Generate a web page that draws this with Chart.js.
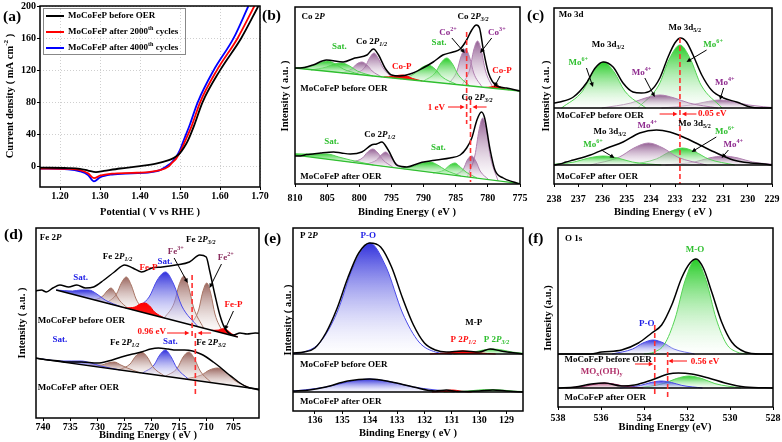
<!DOCTYPE html>
<html>
<head>
<meta charset="utf-8">
<script src="https://cdn.jsdelivr.net/npm/chart.js@4.4.0/dist/chart.umd.min.js"></script>
<style>
body{margin:0;background:#fff;width:782px;height:442px;overflow:hidden;position:relative}
</style>
</head>
<body>
<script>
// ---------- (a) LSV curves: [potential V, current mA cm-2]
const lsvBefore = [[1.15,-1],[1.22,-1.5],[1.25,-2.5],[1.27,-4.5],[1.29,-6.5],[1.31,-5],[1.35,-2],[1.40,1],[1.44,4],[1.47,8],[1.48,10],[1.49,13],[1.50,17],[1.51,24],[1.52,33],[1.535,51],[1.556,80],[1.60,120],[1.653,160],[1.696,200]];
const lsv2000 = [[1.15,-2],[1.22,-2.5],[1.25,-4],[1.27,-8],[1.285,-14],[1.30,-11],[1.33,-8.5],[1.38,-7.5],[1.42,-6.5],[1.45,-4],[1.47,0],[1.48,5],[1.49,10],[1.50,18],[1.51,29],[1.53,52],[1.55,80],[1.592,120],[1.644,160],[1.686,200]];
const lsv4000 = [[1.15,-2],[1.22,-3],[1.25,-5.5],[1.27,-10],[1.285,-18],[1.30,-13],[1.33,-9.5],[1.38,-8],[1.42,-7],[1.45,-4],[1.47,2],[1.48,6],[1.49,12],[1.50,21],[1.51,34],[1.525,53],[1.544,80],[1.584,120],[1.634,160],[1.671,200]];

// ---------- (b) Co 2p: [binding energy eV, intensity a.u.]
const coBase = [[772,91],[813,118]];
const coBaseAfter = [[772,-2],[813,31.4]];
const coFit = [[810,116],[809.2,116],[807.2,119],[805.1,124],[802.5,122],[800.7,126],[798.8,129],[797.8,135],[797.0,129],[796.0,116],[795.0,109],[793.7,108],[792.1,110],[790.1,116],[788.5,122],[787.0,129],[785.4,132],[784.3,135],[783.3,144],[782.5,154],[781.8,159],[781.3,156],[780.7,134],[779.9,111],[778.6,98],[777.1,96],[775,93]];
const coFitAfter = [[810,28],[809.2,28],[808.2,29.5],[807.2,30],[806,31],[804.0,32],[802.8,31],[801.4,30],[799.6,32],[798.1,39],[797.3,40],[796.5,42],[795.5,34],[794.2,19],[793.4,17.5],[792.6,17],[790.6,21],[788.0,24],[785.9,26],[784.3,29],[783.3,36],[782.5,46],[781.7,64],[781.0,72],[780.5,66],[779.7,36],[778.9,14],[777.6,6],[776.0,2],[775,0]];
const coPeaks = [
  [[800.1,110],[802.5,115],[803.7,120],[804.9,123],[806.1,121],[807.3,118],[809.7,116]],
  [[797.9,108],[800.3,113],[801.5,118],[802.7,121],[803.9,120],[805.1,117],[807.5,114]],
  [[796.5,107],[798.0,113],[798.8,119],[799.6,122],[800.4,120],[801.2,115],[802.7,111]],
  [[794.8,106],[796.3,116],[797.0,125],[797.7,131],[798.4,126],[799.1,117],[800.6,110]],
  [[790.2,103],[791.7,105.5],[792.45,107.6],[793.2,109],[793.95,108.6],[794.7,107.5],[796.2,107]],
  [[785.0,100],[787.1,107],[788.2,115],[789.3,119],[790.4,116],[791.5,110],[793.6,105]],
  [[782.8,98],[784.6,109],[785.5,120],[786.4,126],[787.3,121],[788.2,111],[790.0,103]],
  [[780.9,97],[782.2,111],[782.8,126],[783.5,135],[784.2,127],[784.8,113],[786.1,100]],
  [[779.2,96],[780.4,114],[781.0,133],[781.6,143],[782.2,134],[782.8,115],[784.0,99]],
  [[776.8,94.2],[777.7,95.9],[778.15,97.4],[778.6,98.4],[779.05,98],[779.5,97.1],[780.4,96.6]]
];
const coPeakColors = ['green','green','purple','purple','red','green','green','purple','purple','red'];
const coPeaksAfter = [
  [[797.8,19],[801.4,24],[803.2,27],[805,30],[806.8,30],[808.6,30],[812.2,31]],
  [[794.8,17],[796.3,24],[797.1,31],[797.9,35],[798.7,32],[799.5,26],[801.0,22]],
  [[793.0,15],[794.5,22],[795.2,28],[795.9,32],[796.6,29],[797.3,24],[798.8,20]],
  [[784.2,8],[786.6,14],[787.8,19],[789,22],[790.2,21],[791.4,18],[793.8,16]],
  [[781.7,6],[783.4,12],[784.3,17],[785.1,21],[785.9,19],[786.8,14],[788.5,11]],
  [[779.9,4.5],[781.2,13],[781.8,22],[782.5,28],[783.2,24],[783.8,15],[785.1,9]],
  [[778.4,3],[779.6,27],[780.2,52],[780.8,66],[781.4,53],[782.0,29],[783.2,7]]
];
const coPeakColorsAfter = ['green','purple','purple','green','green','purple','purple'];

// ---------- (c) Mo 3d
const moBase = [[227,76],[240,76]];
const moBaseAfter = [[227,19],[240,19]];
const moFit = [[238,81],[237.76,82],[237.2,87],[236.66,101],[236.3,116],[235.97,122],[235.56,117],[235.15,101],[234.74,92],[234.39,91],[233.98,94],[233.63,106],[233.29,127],[233.01,141],[232.78,146],[232.53,142],[232.26,129],[231.9,109],[231.5,94],[231.0,86],[230.46,82],[229.9,77],[229.5,76],[229,76]];
const moFitAfter = [[238,19],[237.76,20],[237.5,22],[237.2,24],[236.5,29],[235.8,36],[235.15,42],[234.46,51],[233.77,54],[233.22,52],[232.67,47],[231.98,39],[231.29,31],[230.6,24],[229.9,21],[229.3,20],[229,19]];
const moPeaks = [
  [[234.21,76],[235.08,93],[235.52,112],[235.95,122],[236.39,112],[236.82,93],[237.69,76]],
  [[231.23,76],[232.43,81],[233.03,86],[233.63,89],[234.23,86],[234.83,81],[236.03,76]],
  [[231.06,76],[231.93,99],[232.37,125],[232.8,139],[233.24,125],[233.67,99],[234.54,76]],
  [[228.76,76],[229.96,79],[230.56,82],[231.16,84],[231.76,82],[232.36,79],[233.56,76]]
];
const moPeaksAfter = [
  [[233.57,19],[234.77,22],[235.37,26],[235.97,28],[236.57,26],[237.17,22],[238.37,19]],
  [[231.7,19],[232.9,27],[233.5,36],[234.1,41],[234.7,36],[235.3,27],[236.5,19]],
  [[230.54,19],[231.62,25],[232.16,32],[232.7,36],[233.24,32],[233.78,25],[234.86,19]],
  [[228.6,19],[229.8,22],[230.4,26],[231.0,28],[231.6,26],[232.2,22],[233.4,19]]
];
const moPeakColors = ['green','purple','green','purple'];

// ---------- (d) Fe 2p
const feBase = [[704.2,81],[737.6,128]];
const feBaseAfter = [[698,27],[743,61]];
const feFit = [[741.4,127],[740.3,128],[739.4,126],[738.2,130],[736.9,133],[735.3,131],[733.8,133],[732.2,130],[730.7,131],[728.8,138],[726.9,146],[725.0,153],[723.5,150],[721.9,146],[720.0,150],[718.1,151],[715.6,153],[713.1,156],[711.2,163],[710.0,161],[709.4,148],[708.4,123],[707.5,103],[706.6,90],[705.0,83],[703.8,85],[702.5,84],[701.0,85],[699.5,84]];
const feFitAfter = [[741.4,60],[739,58],[737,57],[735.6,56],[733,56],[730,55],[728,57],[725.6,61],[723.5,64],[721.9,66],[720.2,69],[718.8,70],[717,69],[715.6,68],[714,68],[712.5,67],[711,64],[710.0,61],[708.7,56],[707.5,51],[706.2,45],[705.0,40],[703.8,35],[702.5,31],[701,29],[699.5,27]];
const fePeaks = [
  [[725.6,111],[728.6,118],[730.1,124],[731.6,128],[733.1,128],[734.6,127],[737.6,128]],
  [[724.5,110],[726.0,118],[726.75,125],[727.5,130],[728.25,127],[729.0,122],[730.5,118]],
  [[721.1,105],[722.9,119],[723.8,133],[724.7,141],[725.6,135],[726.5,124],[728.3,115]],
  [[711.5,91],[714.5,112],[716.0,134],[717.5,146],[719.0,138],[720.5,121],[723.5,108]],
  [[710.5,90],[712.3,110],[713.2,130],[714.1,142],[715.0,133],[715.9,115],[717.7,100]],
  [[706.9,85],[708.4,104],[709.15,124],[709.9,135],[710.65,126],[711.4,108],[712.9,93]],
  [[717.7,100],[719.5,106],[720.4,112],[721.3,115],[722.2,114],[723.1,111],[724.9,110]],
  [[704.2,81],[705.4,84.5],[706.0,87.3],[706.6,89.3],[707.2,89.1],[707.8,87.9],[709.0,87.7]]
];
const fePeakColors = ['blue','brown','brown','blue','brown','brown','red','red'];
const fePeaksAfter = [
  [[725.8,48],[729.4,52],[731.2,55],[733,57],[734.8,57],[736.6,57],[740.2,59]],
  [[722.1,45],[724.5,50],[725.7,53],[726.9,56],[728.1,55],[729.3,53],[731.7,53]],
  [[717.7,42],[719.8,51],[720.85,61],[721.9,66],[722.95,62],[724.0,54],[726.1,48]],
  [[713.3,39],[715.4,50],[716.45,61],[717.5,68],[718.55,63],[719.6,53],[721.7,45]],
  [[709.0,35],[711.1,47],[712.15,59],[713.2,66],[714.25,61],[715.3,50],[717.4,42]],
  [[701.9,30],[704.9,38],[706.4,46],[707.9,50],[709.4,48],[710.9,43],[713.9,39]]
];
const fePeakColorsAfter = ['blue','brown','brown','blue','brown','brown'];

// ---------- (e) P 2p
const pBase = [[127,57],[138,57]];
const pBaseAfter = [[127,19],[138,19]];
const pFit = [[136.8,58],[136.4,59],[136.0,63],[135.6,78],[135.2,102],[134.8,133],[134.4,158],[134.0,168],[133.6,164],[133.2,144],[132.8,113],[132.4,86],[132.0,68],[131.6,61],[131.2,59],[130.6,60],[130.0,59],[129.6,62],[129.2,60],[128.4,57]];
const pFitAfter = [[136.8,20],[136.2,21],[135.6,24],[134.8,30],[134.0,32],[133.2,29],[132.4,24],[131.6,20],[131.2,21],[130.8,19.5],[130.0,20],[129.5,21],[129.0,20],[128.4,19]];
const pPeaks = [
  [[131.0,57],[131.6,59],[132.2,69],[132.8,98],[133.4,144],[134.0,168],[134.6,144],[135.2,98],[135.8,69],[136.4,59],[137.0,57]],
  [[129.4,57],[130.0,58.1],[130.3,59.3],[130.6,60],[130.9,59.3],[131.2,58.1],[131.8,57]],
  [[128.06,57],[128.78,58.9],[129.14,60.9],[129.5,62],[129.86,60.9],[130.22,58.9],[130.94,57]]
];
const pPeaksAfter = [
  [[130.9,19],[132.4,24],[133.2,29],[134.0,32],[134.8,29],[135.6,24],[137.1,19]],
  [[130.28,19],[130.64,19.7],[130.82,20.6],[131,21],[131.18,20.6],[131.36,19.7],[131.72,19]],
  [[127.9,19],[128.76,19.9],[129.18,21],[129.6,21.5],[130.02,21],[130.44,19.9],[131.3,19]]
];
const pPeakColors = ['blue','red','green'];

// ---------- (f) O 1s
const oBase = [[527,53],[539,53]];
const oBaseAfter = [[527,19],[539,19]];
const oFit = [[538,53],[536.5,53],[535.97,55],[535.04,57],[534.26,64],[533.64,74],[533.18,82],[532.71,102],[532.25,129],[531.86,144],[531.58,148],[531.24,139],[530.85,115],[530.39,85],[529.92,65],[529.3,55],[528.6,53],[528,53]];
const oFitAfter = [[538,19],[537.2,20],[536.45,23],[535.83,24],[535.04,21],[534.43,22],[533.64,27],[532.87,33],[532.4,34],[531.78,33],[531.0,29],[530.23,24],[529.3,20],[528,19]];
const oPeaks = [
  [[529.2,53],[529.68,55],[530.16,63],[530.64,88],[531.12,127],[531.6,148],[532.08,127],[532.56,88],[533.04,63],[533.52,55],[534.0,53]],
  [[531.65,53],[532.61,58],[533.09,64],[533.57,67],[534.05,64],[534.53,58],[535.49,53]]
];
const oPeakColors = ['green','blue'];
const oPeaksAfter = [
  [[534.03,19],[534.93,20.9],[535.38,22.9],[535.83,24],[536.28,22.9],[536.73,20.9],[537.63,19]],
  [[531.28,19],[532.24,21.6],[532.72,24.5],[533.2,26],[533.68,24.5],[534.16,21.6],[535.12,19]],
  [[529.5,19],[530.7,23.4],[531.3,28.4],[531.9,31],[532.5,28.4],[533.1,23.4],[534.3,19]]
];
const oPeakColorsAfter = ['maroon','blue','green'];

// ---------- styling
const FONT = 'Liberation Serif';
const K='#000', G='#2fbf2f', PU='#8e2a8e', RD='#ff1010', BL='#1e1ee6', FE='#8a2e5e', MR='#b0306a';
const PAL = {
  green:  ['rgba(0,195,0,0.85)','rgba(255,255,255,0.25)','#55d455'],
  purple: ['rgba(110,40,110,0.75)','rgba(255,255,255,0.25)','#b080b0'],
  blue:   ['rgba(20,20,215,0.88)','rgba(255,255,255,0.25)','#4a4ae8'],
  red:    ['#ff0000','#ff2020','#ff0000'],
  brown:  ['rgba(120,50,40,0.75)','rgba(255,255,255,0.25)','#a87565'],
  maroon: ['rgba(150,20,80,0.8)','rgba(255,255,255,0.3)','#a02060']
};

function grad(top, bot){
  return ctx => {
    const ch = ctx.chart, ys = ch.scales.y;
    if (!ch.chartArea || !ys) return top;
    let hi = -1e9, lo = 1e9;
    ctx.dataset.data.forEach(p => { hi = Math.max(hi, p[1]); lo = Math.min(lo, p[1]); });
    const g = ch.ctx.createLinearGradient(0, ys.getPixelForValue(hi), 0, ys.getPixelForValue(lo) + 1);
    g.addColorStop(0, top); g.addColorStop(1, bot);
    return g;
  };
}
const line = (pts, color, w, order) => ({data: pts, borderColor: color, borderWidth: w, fill: false, order: order, pointRadius: 0, cubicInterpolationMode: 'monotone'});
const peak = (pts, name, target) => {
  const c = PAL[name];
  return {data: pts, borderColor: c[2], borderWidth: 1, fill: target, backgroundColor: grad(c[0], c[1]),
    order: name === 'red' ? 2 : 3, pointRadius: 0, cubicInterpolationMode: 'monotone'};
};
function xpsSets(base, baseAfter, baseColor, fit, fitAfter, peaks, cols, peaksAfter, colsAfter){
  const ds = [line(base, baseColor, 1.3, 1), line(baseAfter, baseColor, 1.3, 1), line(fit, K, 1.5, 0), line(fitAfter, K, 1.5, 0)];
  peaks.forEach((p, i) => ds.push(peak(p, cols[i], 0)));
  peaksAfter.forEach((p, i) => ds.push(peak(p, colsAfter[i], 1)));
  return ds;
}

// ---------- rich text: *italic*, _{sub}, ^{sup}
function parseRich(s){
  const out = []; let it = false, i = 0, buf = '';
  const push = (t, m) => { if (t) out.push({t, m, it}); };
  while (i < s.length){
    const ch = s[i];
    if (ch === '*'){ push(buf, 'n'); buf = ''; it = !it; i++; continue; }
    if ((ch === '_' || ch === '^') && s[i+1] === '{'){
      push(buf, 'n'); buf = '';
      const j = s.indexOf('}', i);
      out.push({t: s.slice(i+2, j), m: ch === '_' ? 'sub' : 'sup', it});
      i = j + 1; continue;
    }
    buf += ch; i++;
  }
  push(buf, 'n');
  return out;
}
const rf = (size, g) => (g.it ? 'italic ' : '') + 'bold ' + (g.m === 'n' ? size : size * 0.68) + 'px "' + FONT + '"';
function drawRich(c, s, x, y, size, color, align){
  const segs = parseRich(s); let w = 0;
  segs.forEach(g => { c.font = rf(size, g); g.w = c.measureText(g.t).width; w += g.w; });
  let cx = align === 'center' ? x - w/2 : align === 'right' ? x - w : x;
  c.fillStyle = color; c.textBaseline = 'middle'; c.textAlign = 'left';
  segs.forEach(g => {
    c.font = rf(size, g);
    const dy = g.m === 'sub' ? size*0.32 : g.m === 'sup' ? -size*0.38 : 0;
    c.fillText(g.t, cx, y + dy); cx += g.w;
  });
}
function arrow(c, x1, y1, x2, y2, col){
  const a = Math.atan2(y2-y1, x2-x1), h = 5;
  c.strokeStyle = col; c.fillStyle = col; c.lineWidth = 1;
  c.beginPath(); c.moveTo(x1, y1); c.lineTo(x2 - Math.cos(a)*h*0.8, y2 - Math.sin(a)*h*0.8); c.stroke();
  c.beginPath(); c.moveTo(x2, y2);
  c.lineTo(x2 - h*Math.cos(a-0.45), y2 - h*Math.sin(a-0.45));
  c.lineTo(x2 - h*Math.cos(a+0.45), y2 - h*Math.sin(a+0.45));
  c.closePath(); c.fill();
}

function deco(p, cl, ct){
  return {id: 'deco', afterDraw(ch){
    const c = ch.ctx, a = ch.chartArea, X = v => ch.scales.x.getPixelForValue(v), Y = v => ch.scales.y.getPixelForValue(v);
    c.save();
    c.beginPath(); c.rect(a.left, a.top, a.right - a.left, a.bottom - a.top); c.clip();
    (p.notes || []).forEach(n => {
      if (n[0] === 'D'){
        c.strokeStyle = '#ff3030'; c.lineWidth = 1.6; c.setLineDash([5, 3]);
        c.beginPath(); c.moveTo(X(n[1]), Y(n[2])); c.lineTo(X(n[1]), Y(n[3])); c.stroke(); c.setLineDash([]);
      }
    });
    (p.notes || []).forEach(n => { if (n[0] === 'A') arrow(c, X(n[1]), Y(n[2]), X(n[3]), Y(n[4]), n[5] || K); });
    (p.notes || []).forEach(n => { if (n[0] === 'T') drawRich(c, n[3], X(n[1]), Y(n[2]), 9, n[4] || K, n[5] || 'center'); });
    c.restore();
    c.save();
    c.strokeStyle = K; c.lineWidth = 1.5; c.strokeRect(a.left, a.top, a.right - a.left, a.bottom - a.top);
    // titles and panel letter, page coords
    drawRich(c, p.xTitle[0], p.xTitle[1] - cl, p.xTitle[2] - ct, 10.5, K, 'center');
    c.save(); c.translate(p.yTitle[1] - cl, p.yTitle[2] - ct); c.rotate(-Math.PI/2);
    drawRich(c, p.yTitle[0], 0, 0, 10.5, K, 'center'); c.restore();
    drawRich(c, p.letter[0], p.letter[1] - cl, p.letter[2] - ct, 15.5, K, 'left');
    if (p.legend){
      const lg = p.legend;
      c.strokeStyle = '#888'; c.lineWidth = 1; c.strokeRect(lg.l - cl + 0.5, lg.t - ct + 0.5, lg.w, lg.h);
      lg.rows.forEach(r => {
        c.strokeStyle = r[1]; c.lineWidth = 2;
        c.beginPath(); c.moveTo(lg.l + 3 - cl, r[2] - ct); c.lineTo(lg.l + 21 - cl, r[2] - ct); c.stroke();
        drawRich(c, r[0], lg.l + 25 - cl, r[2] - ct, 9, K, 'left');
      });
    }
    c.restore();
  }};
}

function panel(p){
  const L = 45, T = 12, R = 16, B = 48, XH = 30;
  const cw = p.plot.r - p.plot.l + L + R, chh = p.plot.b - p.plot.t + T + B;
  const cl = p.plot.l - L, ct = p.plot.t - T;
  const cv = document.createElement('canvas');
  cv.width = cw; cv.height = chh;
  cv.style.cssText = `position:absolute;left:${cl}px;top:${ct}px;width:${cw}px;height:${chh}px`;
  document.body.appendChild(cv);
  const yw = p.yAxis ? 28 : 0;
  const tickFont = {family: FONT, weight: 'bold', size: 10};
  const yScale = p.yAxis ? Object.assign({
      type: 'linear', afterFit: s => { s.width = yw; },
      ticks: {stepSize: p.yAxis.step, includeBounds: false, color: K, font: tickFont, padding: 1},
      grid: {drawOnChartArea: true, color: '#cfcfcf', tickColor: K, tickLength: 3},
      border: {display: false, dash: [1, 2]}
    }, {min: p.yAxis.min, max: p.yAxis.max})
    : {type: 'linear', min: 0, max: p.plot.b - p.plot.t, display: false};
  new Chart(cv, {
    type: 'line',
    data: {datasets: p.datasets},
    options: {
      responsive: false, animation: false, devicePixelRatio: 1,
      layout: {padding: {left: L - yw, top: T, right: R, bottom: B - XH}},
      plugins: {legend: {display: false}, tooltip: {enabled: false}},
      elements: {point: {radius: 0}},
      scales: {
        x: {type: 'linear', min: p.xmin, max: p.xmax, reverse: !!p.reverse,
          afterFit: s => { s.height = XH; },
          ticks: {stepSize: p.step, includeBounds: false, maxRotation: 0, autoSkip: false, padding: p.tpad, color: K, font: tickFont},
          grid: {display: true, drawOnChartArea: !!p.gridOn, color: p.gridOn ? '#cfcfcf' : K, tickColor: K, tickLength: 3},
          border: {display: false, dash: p.gridOn ? [1, 2] : []}},
        y: yScale
      }
    },
    plugins: [deco(p, cl, ct)]
  });
}

const BE = 'Binding Energy ( eV )', INT = 'Intensity ( a.u. )';

// (a)
panel({
  plot: {l: 40, t: 6, r: 260, b: 187}, xmin: 1.15, xmax: 1.7, step: 0.1, tpad: 0, gridOn: true,
  yAxis: {min: -25, max: 200, step: 40},
  datasets: [line(lsvBefore, '#000', 1.8, 0), line(lsv2000, '#ff0000', 1.8, 0), line(lsv4000, '#0000ff', 1.8, 0)],
  xTitle: ['Potential ( V vs RHE )', 150, 212], yTitle: ['Current density ( mA cm^{-2} )', 10, 96],
  letter: ['(a)', 3, 17],
  legend: {l: 43, t: 8, w: 142, h: 46, rows: [['MoCoFeP before OER', '#000', 16], ['MoCoFeP after 2000^{th} cycles', '#ff0000', 32], ['MoCoFeP after 4000^{th} cycles', '#0000ff', 48]]}
});

// (b)
panel({
  plot: {l: 295, t: 7, r: 520, b: 184}, xmin: 775, xmax: 810, step: 5, tpad: 5, reverse: true,
  datasets: xpsSets(coBase, coBaseAfter, '#2fbf2f', coFit, coFitAfter, coPeaks, coPeakColors, coPeaksAfter, coPeakColorsAfter),
  xTitle: [BE, 407, 212], yTitle: [INT, 285, 96], letter: ['(b)', 262, 16],
  notes: [
    ['D', 783.3, 152, 60], ['D', 782.7, 84, 2],
    ['T', 809, 167, 'Co 2*P*', K, 'left'],
    ['T', 803.1, 137, 'Sat.', G], ['T', 798.1, 142, 'Co 2*P_{1/2}*'], ['T', 793.4, 117, 'Co-P', RD],
    ['T', 787.6, 141, 'Sat.', G], ['T', 782.3, 167, 'Co 2*P_{3/2}*'],
    ['T', 786.2, 151, 'Co^{2+}', PU], ['T', 778.6, 151, 'Co^{3+}', PU], ['T', 777.8, 113, 'Co-P', RD],
    ['A', 785.6, 146, 783.6, 131], ['A', 779.4, 146, 781.2, 131], ['A', 778.1, 108, 779.0, 97],
    ['T', 809.2, 95, 'MoCoFeP before OER', K, 'left'],
    ['T', 781.7, 86, 'Co 2*P_{3/2}*'], ['T', 788, 76, '1 eV', RD],
    ['A', 786.2, 77, 783.6, 77, RD], ['A', 780.2, 77, 782.4, 77, RD],
    ['T', 804.3, 42, 'Sat.', G], ['T', 796.8, 49, 'Co 2*P_{1/2}*'], ['T', 787.7, 36, 'Sat.', G],
    ['T', 809.2, 7, 'MoCoFeP after OER', K, 'left']
  ]
});

// (c)
panel({
  plot: {l: 554, t: 8, r: 772, b: 184}, xmin: 229, xmax: 238, step: 1, tpad: 6, reverse: true,
  datasets: xpsSets(moBase, moBaseAfter, K, moFit, moFitAfter, moPeaks, moPeakColors, moPeaksAfter, moPeakColors),
  xTitle: [BE, 663, 212], yTitle: [INT, 546, 96], letter: ['(c)', 527, 16],
  notes: [
    ['D', 232.8, 146, 0],
    ['T', 237.8, 169, 'Mo 3d', K, 'left'],
    ['T', 235.77, 139, 'Mo 3d_{3/2}'], ['T', 232.6, 156, 'Mo 3d_{5/2}'],
    ['T', 237.0, 121, 'Mo^{6+}', G], ['A', 236.66, 116, 236.39, 97],
    ['T', 231.43, 139, 'Mo^{6+}', G], ['A', 231.7, 134, 232.53, 122],
    ['T', 234.39, 111, 'Mo^{4+}', PU], ['A', 234.25, 106, 233.84, 87],
    ['T', 230.95, 101, 'Mo^{4+}', PU], ['A', 231.0, 96, 231.15, 84],
    ['T', 237.9, 68, 'MoCoFeP before OER', K, 'left'],
    ['T', 232.05, 70, '0.05 eV', RD, 'left'],
    ['A', 233.64, 70, 232.9, 70, RD], ['A', 232.12, 70, 232.72, 70, RD],
    ['T', 235.7, 52, 'Mo 3d_{3/2}'], ['T', 234.15, 58, 'Mo^{4+}', PU], ['T', 232.2, 60, 'Mo 3d_{5/2}'],
    ['T', 230.95, 52, 'Mo^{6+}', G], ['A', 231.3, 47, 232.32, 32],
    ['T', 236.39, 39, 'Mo^{6+}', G], ['A', 236.04, 34, 235.5, 26],
    ['T', 230.6, 39, 'Mo^{4+}', PU], ['A', 230.8, 34, 231.08, 26],
    ['T', 237.9, 7, 'MoCoFeP after OER', K, 'left']
  ]
});

// (d)
panel({
  plot: {l: 36, t: 228, r: 259, b: 418}, xmin: 700.3, xmax: 741.3, step: 5, tpad: 0, reverse: true,
  datasets: xpsSets(feBase, feBaseAfter, K, feFit, feFitAfter, fePeaks, fePeakColors, fePeaksAfter, fePeakColorsAfter),
  xTitle: [BE, 148, 435], yTitle: [INT, 22, 323], letter: ['(d)', 4, 235],
  notes: [
    ['D', 712.6, 143, 80], ['D', 712.0, 85, 23],
    ['T', 740.6, 180, 'Fe 2*P*', K, 'left'],
    ['T', 726.3, 161, 'Fe 2*P_{1/2}*'], ['T', 733.1, 140, 'Sat.', BL], ['T', 720.6, 150, 'Fe-P', RD],
    ['T', 717.6, 156, 'Sat.', BL], ['T', 715.6, 166, 'Fe^{3+}', FE], ['T', 711.0, 178, 'Fe 2*P_{3/2}*'],
    ['T', 706.4, 160, 'Fe^{2+}', FE], ['T', 705.0, 113, 'Fe-P', RD],
    ['A', 715.9, 160, 713.4, 135], ['A', 707.2, 154, 709.4, 130], ['A', 705.0, 107, 706.6, 88],
    ['T', 741.0, 97, 'MoCoFeP before OER', K, 'left'],
    ['T', 720.0, 86, '0.96 eV', RD],
    ['A', 717.2, 85, 713.1, 85, RD], ['A', 709.1, 85, 711.6, 85, RD],
    ['T', 725.0, 75, 'Fe 2*P_{1/2}*'], ['T', 716.6, 76, 'Sat.', BL], ['T', 709.1, 75, 'Fe 2*P_{3/2}*'],
    ['T', 736.9, 78, 'Sat.', BL],
    ['T', 741.0, 30, 'MoCoFeP after OER', K, 'left']
  ]
});

// (e)
panel({
  plot: {l: 293, t: 228, r: 523, b: 411}, xmin: 128.4, xmax: 136.8, step: 1, tpad: 0, reverse: true,
  datasets: xpsSets(pBase, pBaseAfter, K, pFit, pFitAfter, pPeaks, pPeakColors, pPeaksAfter, pPeakColors),
  xTitle: [BE, 408, 433], yTitle: [INT, 288, 320], letter: ['(e)', 264, 239],
  notes: [
    ['T', 136.54, 175, 'P 2*P*', K, 'left'], ['T', 134.05, 175, 'P-O', BL],
    ['T', 130.2, 88, 'M-P'], ['T', 130.58, 71, 'P 2*P_{1/2}*', RD], ['T', 129.37, 71, 'P 2*P_{3/2}*', G],
    ['T', 136.54, 46, 'MoCoFeP before OER', K, 'left'],
    ['T', 136.54, 9, 'MoCoFeP after OER', K, 'left']
  ]
});

// (f)
panel({
  plot: {l: 558, t: 228, r: 773, b: 407}, xmin: 528, xmax: 538, step: 2, tpad: 2, reverse: true,
  datasets: xpsSets(oBase, oBaseAfter, K, oFit, oFitAfter, oPeaks, oPeakColors, oPeaksAfter, oPeakColorsAfter),
  xTitle: ['Binding Energy (eV)', 665, 427], yTitle: ['Intensity (a.u.)', 548, 318], letter: ['(f)', 528, 239],
  notes: [
    ['D', 533.5, 82, 12], ['D', 532.9, 55, 7],
    ['T', 537.67, 168, 'O 1s', K, 'left'], ['T', 531.63, 157, 'M-O', G], ['T', 533.87, 83, 'P-O', BL],
    ['T', 537.7, 47, 'MoCoFeP before OER', K, 'left'],
    ['T', 531.16, 45, '0.56 eV', RD],
    ['A', 532.0, 46, 532.87, 46, RD], ['A', 534.42, 43, 533.57, 43, RD],
    ['T', 535.97, 35, 'MO_{x}(OH)_{y}', MR],
    ['T', 537.7, 9, 'MoCoFeP after OER', K, 'left']
  ]
});
</script>
</body>
</html>
